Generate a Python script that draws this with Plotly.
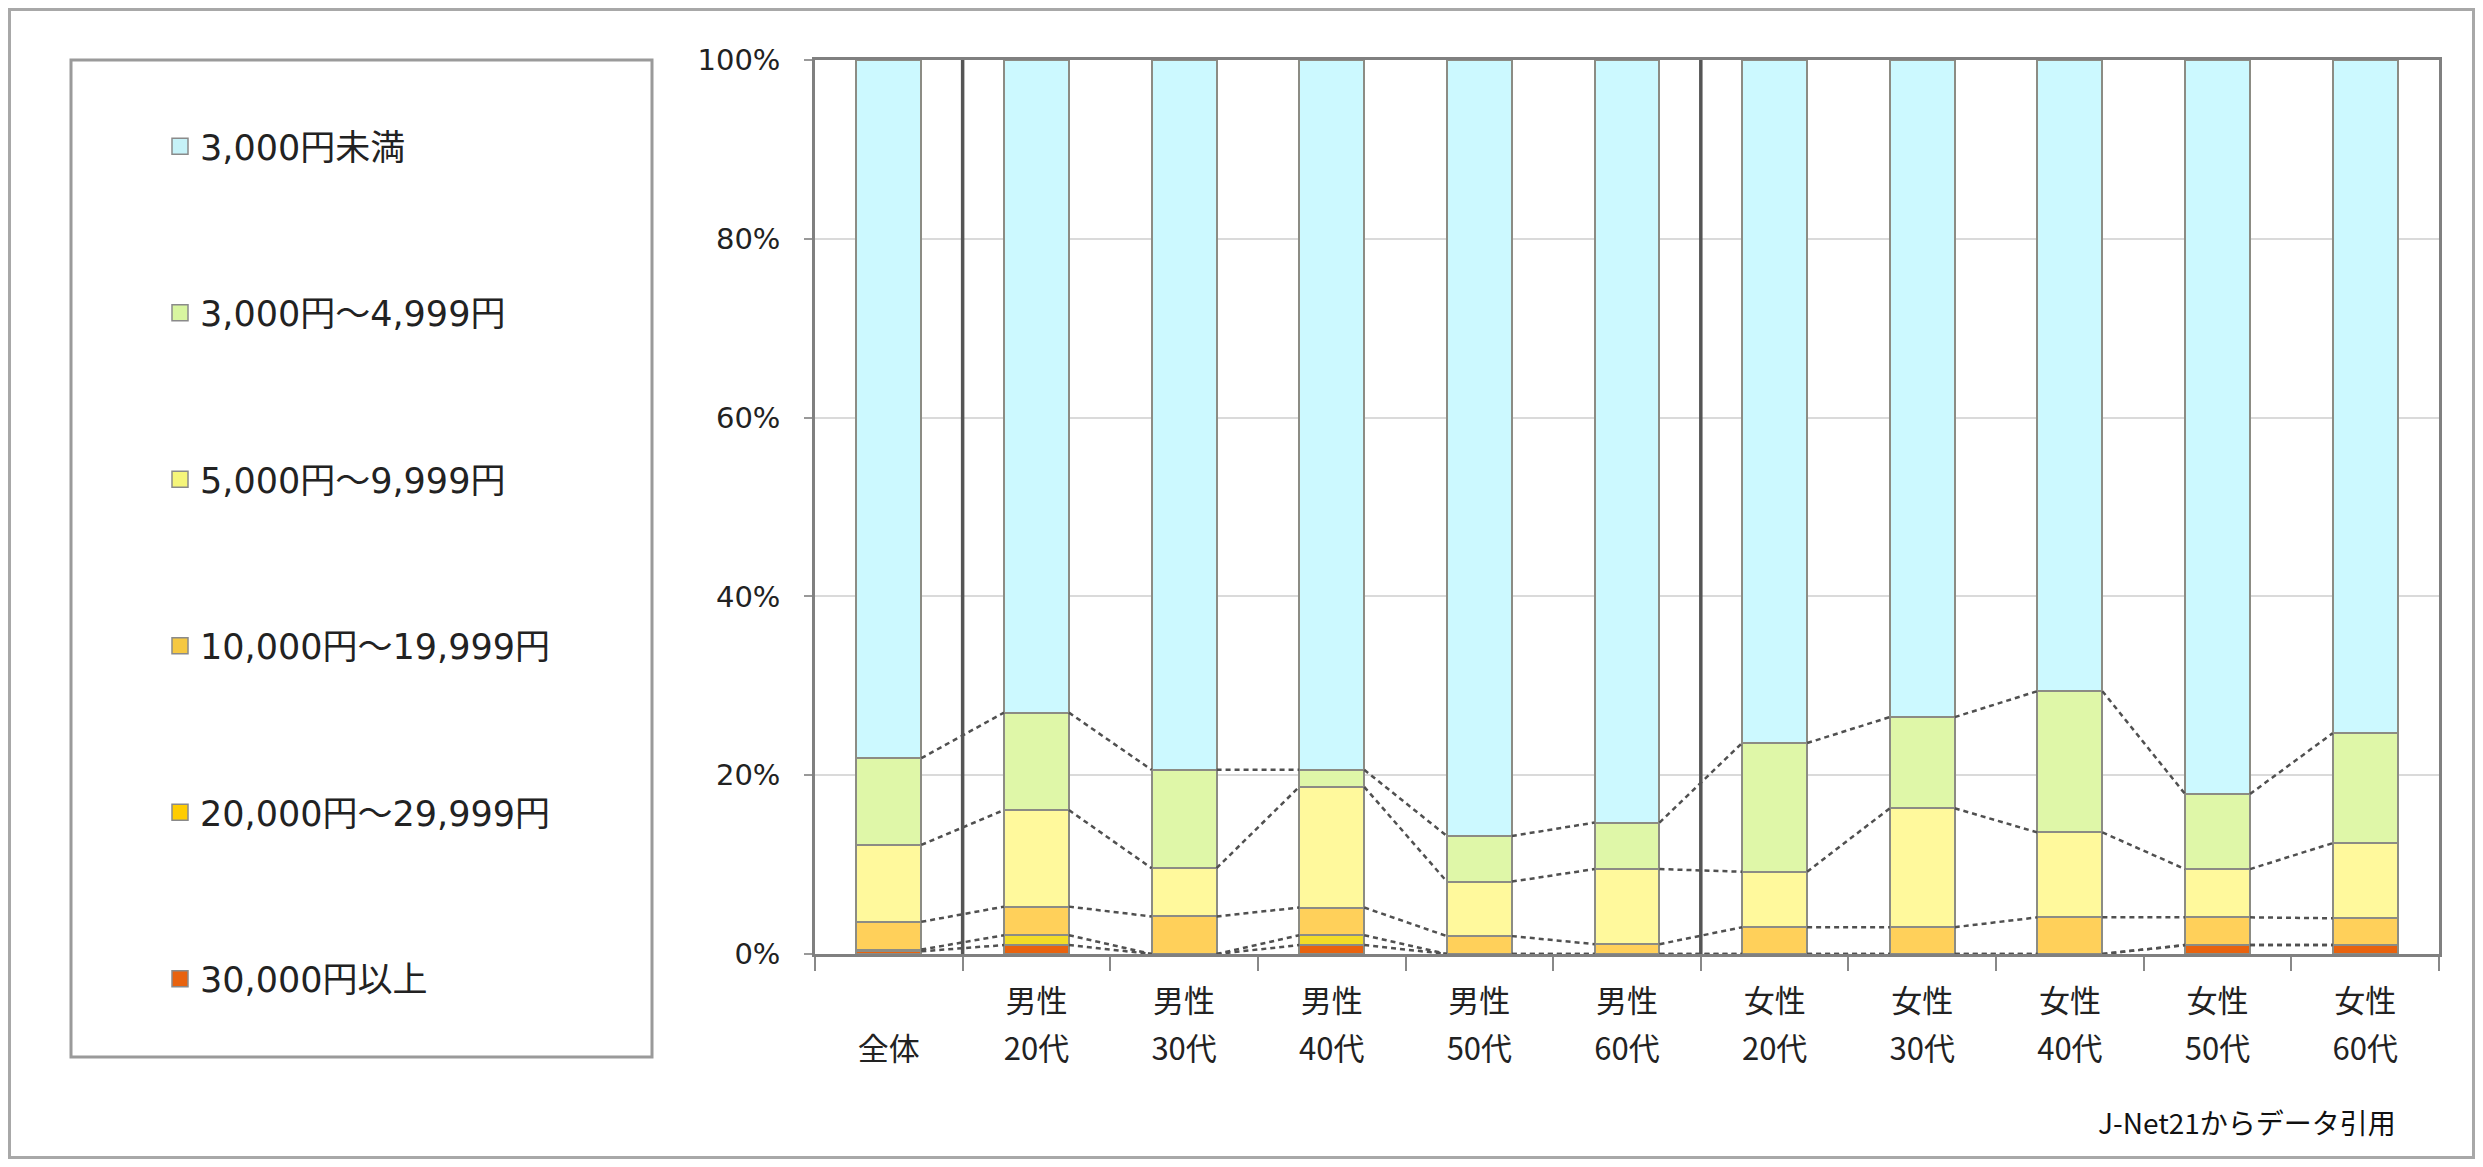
import numpy as np
import plotly.graph_objects as go

# ---- data (percent) ----
categories = ["全体", "男性20代", "男性30代", "男性40代", "男性50代", "男性60代",
              "女性20代", "女性30代", "女性40代", "女性50代", "女性60代"]
label_row1 = ["", "男性", "男性", "男性", "男性", "男性", "女性", "女性", "女性", "女性", "女性"]
label_row2 = ["全体", "20代", "30代", "40代", "50代", "60代", "20代", "30代", "40代", "50代", "60代"]

series_names = ["30,000円以上", "20,000円～29,999円", "10,000円～19,999円",
                "5,000円～9,999円", "3,000円～4,999円", "3,000円未満"]

v_30000_over = [0.3, 1.0, 0.0, 1.0, 0.0, 0.0, 0.0, 0.0, 0.0, 1.0, 1.0]
v_20000_29999 = [0.2, 1.1, 0.0, 1.1, 0.0, 0.0, 0.0, 0.0, 0.0, 0.0, 0.0]
v_10000_19999 = [3.1, 3.2, 4.2, 3.1, 2.0, 1.1, 3.0, 3.0, 4.1, 3.1, 3.0]
v_5000_9999 = [8.6, 10.8, 5.4, 13.5, 6.1, 8.4, 6.2, 13.3, 9.5, 5.4, 8.4]
v_3000_4999 = [9.7, 10.9, 11.0, 1.9, 5.1, 5.2, 14.4, 10.2, 15.8, 8.4, 12.3]
v_under_3000 = [78.1, 73.0, 79.4, 79.4, 86.8, 85.3, 76.4, 73.5, 70.6, 82.1, 75.3]

y_ticks = [0, 20, 40, 60, 80, 100]
y_tick_labels = ["0%", "20%", "40%", "60%", "80%", "100%"]
source_text = "J-Net21からデータ引用"

series_values = [v_30000_over, v_20000_29999, v_10000_19999, v_5000_9999, v_3000_4999, v_under_3000]
series_colors = ["#E8620E", "#F2DC28", "#FFD05A", "#FFF99C", "#DFF7A8", "#CCF9FF"]
legend_colors = ["#E8620E", "#FFCC00", "#F5C842", "#F5F57A", "#D8F5A0", "#C6F2F8"]

FONT = "Noto Sans CJK JP"
LFONT = "DejaVu Sans, Noto Sans CJK JP"
BAR_W = 0.44
x_pos = np.arange(len(categories))

# page has an 8px body margin: work in image coords and shift
OFF = 8
W, H = 2483 - 2 * OFF, 1167 - 2 * OFF
PL, PR, PT, PB = 815 - OFF, 2439 - OFF, 60 - OFF, 954 - OFF


def px(xi):
    return (xi - OFF - PL) / (PR - PL)


def py(yi):
    return (PB - (yi - OFF)) / (PB - PT)


fig = go.Figure()

n_series = len(series_names)
for idx, (name, vals, col) in enumerate(zip(series_names, series_values, series_colors)):
    fig.add_trace(go.Bar(
        x=x_pos, y=vals, name=name, width=BAR_W, showlegend=False,
        marker=dict(color=col, line=dict(color="#8C8C84", width=2)),
        hoverinfo="name+y",
    ))

# legend entries (square swatches)
for idx, (name, col) in enumerate(zip(series_names, legend_colors)):
    fig.add_trace(go.Scatter(
        x=[None], y=[None], mode="markers", name=name, legendgroup=name,
        legendrank=n_series - idx,
        marker=dict(symbol="square", size=22, color=col,
                    line=dict(color="#8A8A8A", width=1.5)),
    ))

# series lines (connect cumulative tops of adjacent bars)
cum = np.cumsum(np.array(series_values[:-1]), axis=0)
for k in range(cum.shape[0]):
    xs, ys = [], []
    for i in range(len(categories) - 1):
        xs += [x_pos[i] + BAR_W / 2, x_pos[i + 1] - BAR_W / 2, None]
        ys += [cum[k][i], cum[k][i + 1], None]
    fig.add_trace(go.Scatter(x=xs, y=ys, mode="lines", showlegend=False,
                             hoverinfo="skip",
                             line=dict(color="#505050", width=2.5, dash="5px,4px")))

# carrier for the first label row
fig.add_trace(go.Scatter(x=x_pos, y=[None] * len(x_pos), xaxis="x2", showlegend=False,
                         hoverinfo="skip"))

# group separators
for xb in [0.5, 5.5]:
    fig.add_shape(type="line", xref="x", yref="y", x0=xb, x1=xb, y0=0, y1=100,
                  line=dict(color="#555555", width=3.5), layer="above")

# legend box and outer border (decoration)
fig.add_shape(type="rect", xref="paper", yref="paper",
              x0=px(71), x1=px(652), y0=py(1057), y1=py(60),
              line=dict(color="#9A9A9A", width=3))
fig.add_shape(type="rect", xref="paper", yref="paper",
              x0=px(9.5), x1=px(2473.5), y0=py(1157.5), y1=py(9.5),
              line=dict(color="#A8A8A8", width=3))

fig.add_annotation(text=source_text, xref="paper", yref="paper",
                   x=px(2398), y=py(1122), xanchor="right", yanchor="middle",
                   showarrow=False, font=dict(family=FONT, size=28, color="#111111"))

fig.update_layout(
    width=W, height=H, autosize=False,
    margin=dict(l=PL, r=W - PR, t=PT, b=H - PB),
    paper_bgcolor="white", plot_bgcolor="white",
    barmode="stack",
    font=dict(family=FONT, size=25, color="#222222"),
    legend=dict(
        x=px(160), y=py(117), xanchor="left", yanchor="top",
        traceorder="grouped", tracegroupgap=118, itemsizing="trace",
        font=dict(family=LFONT, size=35, color="#222222"),
        bgcolor="rgba(0,0,0,0)", borderwidth=0, itemwidth=30, maxheight=1100,
    ),
    xaxis=dict(
        range=[-0.5, len(categories) - 0.5], tickvals=list(x_pos), ticktext=label_row2,
        ticks="", showgrid=False, zeroline=False,
        showline=True, linecolor="#808080", linewidth=2.5, mirror=True,
        tickfont=dict(family=FONT, size=31, color="#222222"),
        ticklabelstandoff=66,
        minor=dict(tickvals=list(np.arange(len(categories) + 1) - 0.5), ticks="outside",
                   ticklen=14, tickcolor="#888888", tickwidth=2, showgrid=False),
    ),
    xaxis2=dict(
        overlaying="x", matches="x", anchor="y", side="bottom",
        tickvals=list(x_pos), ticktext=label_row1, ticks="", showgrid=False,
        zeroline=False, showline=False,
        tickfont=dict(family=FONT, size=31, color="#222222"),
        ticklabelstandoff=26,
    ),
    yaxis=dict(
        range=[0, 100], tickvals=y_ticks, ticktext=y_tick_labels,
        showgrid=True, gridcolor="#DADADA", gridwidth=2,
        zeroline=False, showline=True, linecolor="#808080", linewidth=2.5, mirror=True,
        ticks="outside", ticklen=8, tickcolor="#999999", tickwidth=2,
        tickfont=dict(family="DejaVu Sans", size=29, color="#222222"),
        ticklabelstandoff=18,
    ),
)

fig.write_html("out.html")
